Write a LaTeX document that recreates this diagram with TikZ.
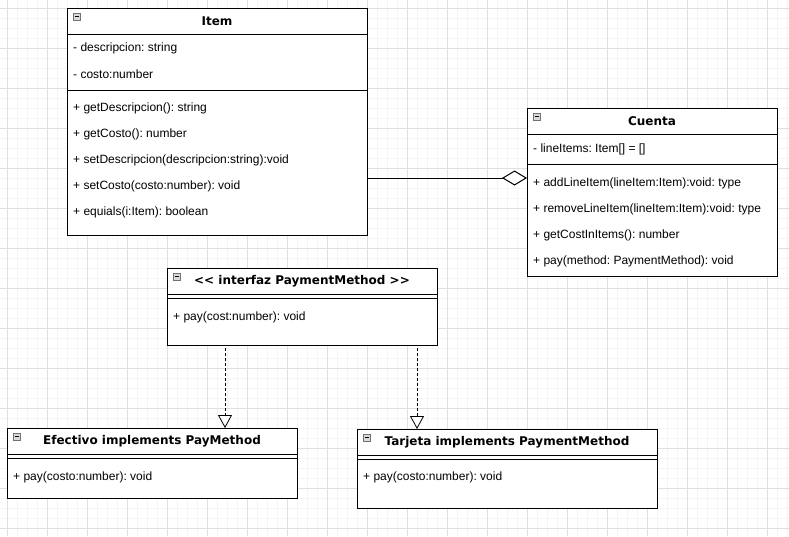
\documentclass[tikz,border=0pt]{standalone}
\usepackage{fontspec}
\setmainfont{Liberation Sans}
\newfontfamily\titlefont{DejaVu Sans}
\usetikzlibrary{arrows.meta}

\begin{document}
\fontsize{12}{14}\selectfont\frenchspacing
\begin{tikzpicture}[x=1pt, y=-1pt,
    classbox/.style={draw, line width=1pt, fill=white, anchor=north west, inner sep=0pt},
    classname/.style={font=\titlefont\fontsize{12}{14}\selectfont\bfseries, inner sep=0pt},
    member/.style={anchor=west, inner sep=0pt},
    minusicon/.style={draw=black!55, fill=black!15, line width=0.6pt},
    realize/.style={line width=0.8pt, dash pattern=on 3pt off 2pt,
      -{Triangle[open, fill=white, length=13pt, width=14pt]}},
    aggregate/.style={line width=1pt, -{Diamond[open, fill=white, length=25pt, width=15pt]}}]
    \useasboundingbox (0,0) rectangle (789,536);
    % background grid
    \foreach \x in {-3,7,...,787} \draw[black!4] (\x,0) -- (\x,536);
    \foreach \y in {-2,8,...,536} \draw[black!4] (0,\y) -- (789,\y);
    \foreach \x in {7,47,...,787} \draw[black!12] (\x,0) -- (\x,536);
    \foreach \y in {8,48,...,536} \draw[black!12] (0,\y) -- (789,\y);

    % Item
    \node[classbox, minimum width=300pt, minimum height=227pt] (item) at (67,8) {};
    \node[classname] (itemName) at (217,21) {Item};
    \draw[line width=1pt] (67,34) -- (367,34);
    \draw[line width=1pt] (67,90) -- (367,90);
    \node[member] (itemDesc) at (73,48) {- descripcion: string};
    \node[member] (itemCosto) at (73,74) {- costo:number};
    \foreach \m [count=\i] in {+ getDescripcion(): string, + getCosto(): number,
        + setDescripcion(descripcion:string):void, + setCosto(costo:number): void,
        + equials(i:Item): boolean}
      \node[member] (itemM\i) at (73,82+26*\i) {\m};

    % Cuenta
    \node[classbox, minimum width=250pt, minimum height=168pt] (cuenta) at (527,108) {};
    \node[classname] (cuentaName) at (652,121) {Cuenta};
    \draw[line width=1pt] (527,134) -- (777,134);
    \draw[line width=1pt] (527,164) -- (777,164);
    \node[member] (cuentaItems) at (533,149) {- lineItems: Item[] = []};
    \foreach \m [count=\i] in {+ addLineItem(lineItem:Item):void: type,
        + removeLineItem(lineItem:Item):void: type, + getCostInItems(): number,
        + pay(method: PaymentMethod): void}
      \node[member] (cuentaM\i) at (533,157+26*\i) {\m};

    % PaymentMethod
    \node[classbox, minimum width=270pt, minimum height=77pt] (payment) at (167,268) {};
    \node[classname] (paymentName) at (302,281) {\textless\textless{} interfaz PaymentMethod \textgreater\textgreater};
    \draw[line width=1pt] (167,294) -- (437,294);
    \draw[line width=1pt] (167,298) -- (437,298);
    \node[member] (paymentPay) at (173,317) {+ pay(cost:number): void};

    % Efectivo
    \node[classbox, minimum width=290pt, minimum height=70pt] (efectivo) at (7,428) {};
    \node[classname] (efectivoName) at (152,441) {Efectivo implements PayMethod};
    \draw[line width=1pt] (7,454) -- (297,454);
    \draw[line width=1pt] (7,458) -- (297,458);
    \node[member] (efectivoPay) at (13,477) {+ pay(costo:number): void};

    % Tarjeta
    \node[classbox, minimum width=300pt, minimum height=79pt] (tarjeta) at (357,429) {};
    \node[classname] (tarjetaName) at (507,442) {Tarjeta implements PaymentMethod};
    \draw[line width=1pt] (357,455) -- (657,455);
    \draw[line width=1pt] (357,459) -- (657,459);
    \node[member] (tarjetaPay) at (363,477) {+ pay(costo:number): void};

    % collapse icons
    \foreach \x/\y in {73/13, 533/113, 173/273, 13/433, 363/434} {
      \draw[minusicon] (\x,\y) rectangle ++(7,7);
      \draw[line width=0.8pt] (\x+1.5,\y+3.5) -- ++(4,0);
    }

    % relations
    \coordinate (aggEnd) at (527,178);
    \draw[aggregate] (aggEnd -| item.east) -- (aggEnd);
    \coordinate (efectivoFrom) at (225,348);
    \coordinate (tarjetaFrom) at (417,348);
    \draw[realize] (efectivoFrom) -- (efectivoFrom |- efectivo.north);
    \draw[realize] (tarjetaFrom) -- (tarjetaFrom |- tarjeta.north);
  \end{tikzpicture}
\end{document}
